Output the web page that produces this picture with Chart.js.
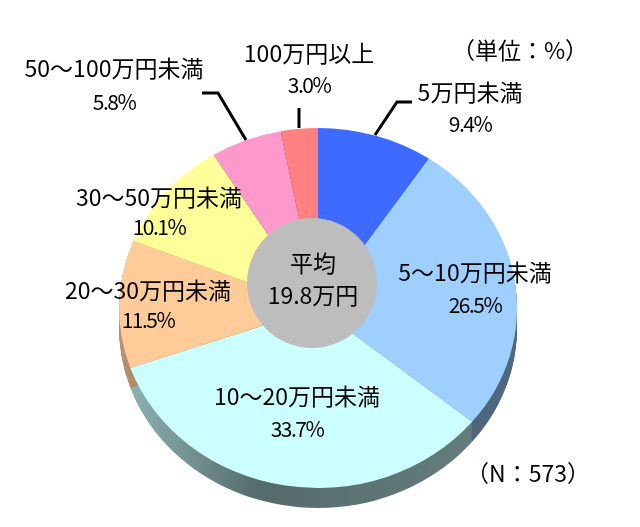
<!DOCTYPE html>
<html>
<head>
<meta charset="utf-8">
<style>
  html, body { margin: 0; padding: 0; background: #fff; }
  canvas { display: block; }
</style>
<script src="https://cdn.jsdelivr.net/npm/chart.js@4"></script>
</head>
<body>
<canvas id="chart" width="640" height="527"></canvas>
<script>
const categories = ["5万円未満", "5～10万円未満", "10～20万円未満", "20～30万円未満", "30～50万円未満", "50～100万円未満", "100万円以上"];
const shares = [9.4, 26.5, 33.7, 11.5, 10.1, 5.8, 3.0];
const sliceColors = ["#3D6BFF", "#9FCFFF", "#CCFFFF", "#FFCC99", "#FFFF99", "#FF99CC", "#FF8080"];
// label centres, same order as categories
const labelX = [470, 475, 297, 148, 159, 114, 309];
const labelY = [92, 272, 396, 290, 197, 68, 53];
const valueX = [470, 475, 297, 148, 159, 114, 309];
const valueY = [124, 305, 429, 320, 227, 102, 85];
const hubLines = ["平均", "19.8万円"];
const notes = ["（単位：%）", "（N：573）"];

const squash = 180 / 199;
const depth = 20;
const font = '23px "Noto Sans CJK JP"';
const valueFont = '21px "Noto Sans CJK JP"';

const shade = (hex, f) => {
  const n = parseInt(hex.slice(1), 16);
  return `rgb(${(n >> 16) * f},${((n >> 8) & 255) * f},${(n & 255) * f})`;
};

// squash the pie into an ellipse and add the side wall under it
const tilt = {
  id: "tilt",
  beforeDatasetsDraw(c) {
    const ctx = c.ctx;
    const arcs = c.getDatasetMeta(0).data;
    const cy = arcs[0].y;
    ctx.save();
    ctx.translate(0, cy);
    ctx.scale(1, squash);
    ctx.translate(0, -cy);
    arcs.forEach((a, i) => {
      const g = ctx.createLinearGradient(a.x - a.outerRadius, 0, a.x + a.outerRadius, 0);
      g.addColorStop(0, shade(sliceColors[i], 0.72));
      g.addColorStop(0.35, shade(sliceColors[i], 0.42));
      g.addColorStop(1, shade(sliceColors[i], 0.5));
      ctx.fillStyle = g;
      for (let d = depth; d > 0; d--) {
        ctx.beginPath();
        ctx.moveTo(a.x, a.y + d / squash);
        ctx.arc(a.x, a.y + d / squash, a.outerRadius, a.startAngle, a.endAngle);
        ctx.closePath();
        ctx.fill();
      }
    });
    ctx.restore();
    ctx.save();
    ctx.translate(0, cy);
    ctx.scale(1, squash);
    ctx.translate(0, -cy);
  },
  afterDatasetsDraw(c) {
    const ctx = c.ctx;
    ctx.restore();

    // hub
    ctx.fillStyle = "#BDBDBD";
    ctx.beginPath();
    ctx.arc(312, 283, 65, 0, Math.PI * 2);
    ctx.fill();

    // leader lines
    ctx.strokeStyle = "#000";
    ctx.lineWidth = 3;
    [[[375, 135], [397, 102], [412, 102]], [[246, 140], [218, 93], [202, 93]], [[299, 128], [299, 108]]].forEach((l) => {
      ctx.beginPath();
      l.forEach((p, i) => (i ? ctx.lineTo(p[0], p[1]) : ctx.moveTo(p[0], p[1])));
      ctx.stroke();
    });

    ctx.fillStyle = "#000";
    ctx.textAlign = "center";
    ctx.textBaseline = "middle";
    categories.forEach((name, i) => {
      ctx.font = font;
      ctx.letterSpacing = "0px";
      ctx.fillText(name, labelX[i], labelY[i]);
      ctx.font = valueFont;
      ctx.letterSpacing = "-1.5px";
      ctx.fillText(shares[i].toFixed(1) + "%", valueX[i], valueY[i]);
    });
    ctx.font = font;
    ctx.letterSpacing = "0px";
    ctx.fillText(hubLines[0], 313, 263);
    ctx.fillText(hubLines[1], 313, 295);
    ctx.fillText(notes[0], 520, 50);
    ctx.fillText(notes[1], 528, 473);
  },
};

new Chart(document.getElementById("chart"), {
  type: "pie",
  data: {
    labels: categories,
    datasets: [{ data: shares, backgroundColor: sliceColors, borderWidth: 0, hoverOffset: 0 }],
  },
  options: {
    responsive: false,
    animation: false,
    devicePixelRatio: 1,
    layout: { padding: { left: 119, right: 123, top: 109, bottom: 20 } },
    plugins: { legend: { display: false }, tooltip: { enabled: false } },
  },
  plugins: [tilt],
});
</script>
</body>
</html>
